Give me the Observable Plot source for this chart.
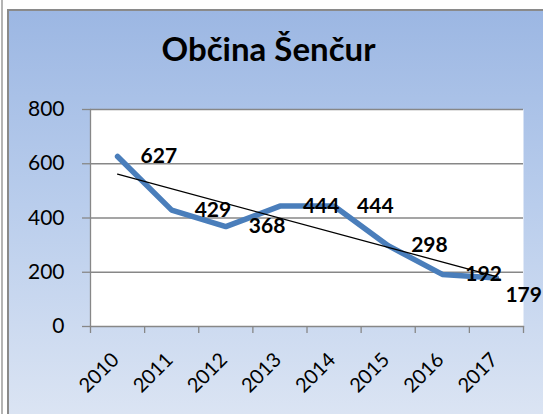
<!DOCTYPE html>
<html>
<head>
<meta charset="utf-8">
<script src="https://cdn.jsdelivr.net/npm/d3@7"></script>
<script src="https://cdn.jsdelivr.net/npm/@observablehq/plot@0.6"></script>
<style>
  html, body { margin: 0; padding: 0; background: #fff; }
  #wrap { position: relative; width: 543px; height: 414px; overflow: hidden; font-family: Lato, "Open Sans", sans-serif; }
  #edge { position: absolute; left: 1px; top: 0; width: 2px; height: 414px; background: #b4b4b4; }
  #box { position: absolute; left: 7px; top: 9px; width: 560px; height: 430px; border: 2px solid #8a8a8a;
         background: linear-gradient(to bottom, #9cb7e3 0%, #b9cdec 45%, #dfe7f4 100%); }
  #title { position: absolute; left: 0; top: 32px; width: 537px; text-align: center; font-weight: bold;
           font-size: 33px; line-height: 1; color: #000; }
  #chart { position: absolute; left: 0; top: 0; }
</style>
</head>
<body>
<div id="wrap">
  <div id="edge"></div>
  <div id="box"></div>
  <div id="title">Občina Šenčur</div>
  <div id="chart"></div>
</div>
<script>
const years = ["2010", "2011", "2012", "2013", "2014", "2015", "2016", "2017"];
const values = [627, 429, 368, 444, 444, 298, 192, 179];
const yTicks = [0, 200, 400, 600, 800];

const data = years.map((y, i) => ({year: y, i: i + 1, v: values[i]}));
const boundaries = d3.range(years.length + 1).map(i => i + 0.5);
const last = data.length - 1;

const gray = "#878787";
const plot = Plot.plot({
  width: 543,
  height: 414,
  marginLeft: 90,
  marginRight: 20,
  marginTop: 109,
  marginBottom: 88,
  style: {background: "transparent", fontFamily: "Lato, 'Open Sans', sans-serif"},
  x: {type: "linear", domain: [0.5, years.length + 0.5], axis: null, label: null},
  y: {domain: [0, 800], axis: null, label: null},
  marks: [
    Plot.frame({fill: "white", stroke: null}),
    Plot.gridY(yTicks.filter(d => d > 0), {stroke: gray, strokeOpacity: 1, strokeWidth: 1.3}),
    Plot.axisY(yTicks, {label: null, tickSize: 8, tickPadding: 18, stroke: gray, strokeWidth: 1.3, fontSize: 21, fill: "#000", tickFormat: d => String(d)}),
    Plot.frame({anchor: "left", stroke: gray, strokeWidth: 1.3}),
    Plot.frame({anchor: "bottom", stroke: gray, strokeWidth: 1.3}),
    Plot.axisX(boundaries, {label: null, tickSize: 7, tickFormat: () => "", stroke: gray, strokeWidth: 1.3}),
    Plot.text(data, {x: "i", text: "year", frameAnchor: "bottom", rotate: -45, textAnchor: "end",
                     lineAnchor: "middle", dy: 30, dx: -2, fontSize: 20, fill: "#000"}),
    Plot.line(data, {x: "i", y: "v", stroke: "#4a7ebb", strokeWidth: 5.5, strokeLinejoin: "miter"}),
    Plot.linearRegressionY(data, {x: "i", y: "v", stroke: "#000", strokeWidth: 1.3, ci: 0}),
    Plot.text(data.filter((d, k) => k !== last), {x: "i", y: "v", text: d => String(d.v), textAnchor: "start",
                     dx: 23, fontSize: 21, fontWeight: "bold", fill: "#000"}),
    Plot.text(data.filter((d, k) => k === last), {x: "i", y: "v", text: d => String(d.v), textAnchor: "start",
                     dx: 9, dy: 17, fontSize: 21, fontWeight: "bold", fill: "#000"})
  ]
});
plot.style.overflow = "visible";
document.getElementById("chart").appendChild(plot);
</script>
</body>
</html>
